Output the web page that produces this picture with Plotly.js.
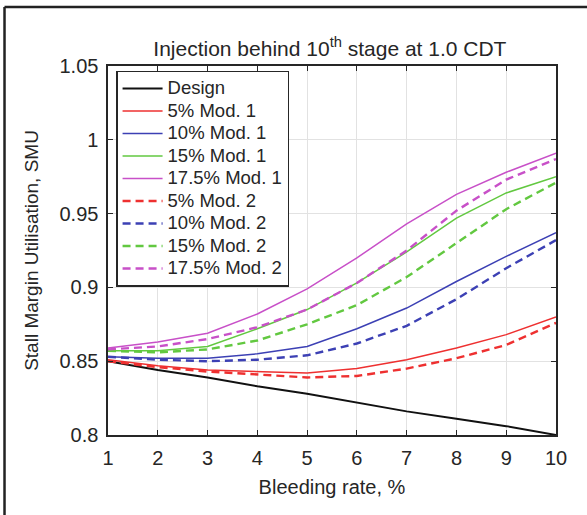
<!DOCTYPE html>
<html>
<head>
<meta charset="utf-8">
<script src="https://cdn.plot.ly/plotly-3.0.1.min.js"></script>
<style>
html,body{margin:0;padding:0;background:#fff;}
#chart{width:587px;height:515px;}
.legendtext{font-size:18.5px !important;}
</style>
</head>
<body>
<div id="chart"></div>
<script>
var bleedRate = [1, 2, 3, 4, 5, 6, 7, 8, 9, 10];
var design    = [0.850, 0.844, 0.839, 0.833, 0.828, 0.822, 0.816, 0.811, 0.806, 0.800];
var mod1_5    = [0.851, 0.847, 0.844, 0.843, 0.842, 0.845, 0.851, 0.859, 0.868, 0.880];
var mod1_10   = [0.853, 0.852, 0.852, 0.855, 0.860, 0.872, 0.886, 0.904, 0.921, 0.937];
var mod1_15   = [0.857, 0.857, 0.860, 0.872, 0.885, 0.903, 0.924, 0.947, 0.964, 0.975];
var mod1_175  = [0.859, 0.863, 0.869, 0.882, 0.899, 0.920, 0.943, 0.963, 0.978, 0.991];
var mod2_5    = [0.850, 0.846, 0.843, 0.841, 0.839, 0.840, 0.845, 0.852, 0.861, 0.876];
var mod2_10   = [0.853, 0.851, 0.850, 0.851, 0.854, 0.862, 0.874, 0.892, 0.913, 0.932];
var mod2_15   = [0.857, 0.856, 0.858, 0.864, 0.875, 0.888, 0.907, 0.930, 0.953, 0.971];
var mod2_175  = [0.858, 0.860, 0.865, 0.873, 0.885, 0.903, 0.925, 0.952, 0.973, 0.987];

var seriesNames = ["Design", "5% Mod. 1", "10% Mod. 1", "15% Mod. 1", "17.5% Mod. 1",
                   "5% Mod. 2", "10% Mod. 2", "15% Mod. 2", "17.5% Mod. 2"];
var seriesData = [design, mod1_5, mod1_10, mod1_15, mod1_175, mod2_5, mod2_10, mod2_15, mod2_175];
var colors = ["#111111", "#ee3030", "#3c40b4", "#62c840", "#c850c8",
              "#ee3030", "#3c40b4", "#62c840", "#c850c8"];

var traces = seriesData.map(function (d, i) {
  var dashed = i >= 5;
  return {
    x: bleedRate, y: d, name: seriesNames[i], type: 'scatter', mode: 'lines',
    line: {color: colors[i], width: i === 0 ? 2 : (dashed ? 2.4 : 1.5), dash: dashed ? '8px,5px' : 'solid'}
  };
});

var fnt = 'Liberation Sans, Arial, Helvetica, sans-serif';
var layout = {
  width: 587, height: 515,
  margin: {l: 108, r: 31, t: 66, b: 80},
  paper_bgcolor: '#fff', plot_bgcolor: '#fff',
  font: {family: fnt, color: '#262626', size: 20},
  title: {text: 'Injection behind 10<sup>th</sup> stage at 1.0 CDT', x: 0.562, xanchor: 'center', y: 0.905, yanchor: 'middle', font: {size: 21, color: '#262626'}},
  xaxis: {
    range: [1, 10], dtick: 1, tick0: 1, showgrid: true, gridcolor: '#e2e2e2', gridwidth: 1,
    showline: true, linecolor: '#262626', linewidth: 1.6, mirror: 'ticks',
    ticks: 'inside', ticklen: 5, tickwidth: 1.2, tickcolor: '#262626',
    tickfont: {size: 20, color: '#262626'}, zeroline: false, ticklabelstandoff: 4,
    title: {text: 'Bleeding rate, %', font: {size: 20, color: '#262626'}, standoff: 12}
  },
  yaxis: {
    range: [0.8, 1.05], dtick: 0.05, tick0: 0.8, showgrid: true, gridcolor: '#e2e2e2', gridwidth: 1,
    showline: true, linecolor: '#262626', linewidth: 1.6, mirror: 'ticks',
    ticks: 'inside', ticklen: 5, tickwidth: 1.2, tickcolor: '#262626',
    tickfont: {size: 20, color: '#262626'}, zeroline: false, ticklabelstandoff: 4,
    title: {text: 'Stall Margin Utilisation, SMU', font: {size: 19, color: '#262626'}, standoff: 16}
  },
  showlegend: true,
  legend: {
    x: 0.018, y: 0.987, xanchor: 'left', yanchor: 'top',
    bgcolor: '#ffffff', bordercolor: '#262626', borderwidth: 1.5,
    font: {size: 15, color: '#262626', family: fnt},
    itemwidth: 40, tracegroupgap: 0
  },
  shapes: [
    {type: 'line', xref: 'paper', yref: 'paper', x0: -0.231, x1: 1.08, y0: 1.16, y1: 1.16, line: {color: '#222', width: 2.5}},
    {type: 'line', xref: 'paper', yref: 'paper', x0: -0.231, x1: -0.231, y0: 1.16, y1: -0.25, line: {color: '#222', width: 2.5}}
  ]
};

Plotly.newPlot('chart', traces, layout, {displayModeBar: false, staticPlot: true});
</script>
</body>
</html>
